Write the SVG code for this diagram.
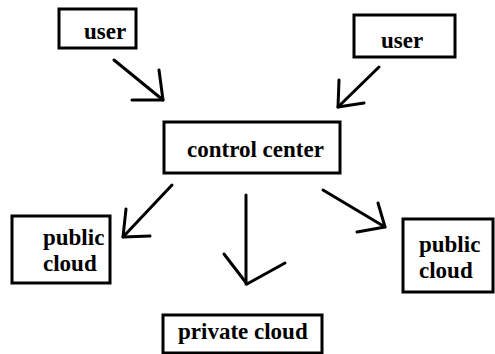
<svg xmlns="http://www.w3.org/2000/svg" width="495" height="354" viewBox="0 0 495 354">
<style>
.box{fill:#fff;stroke:#000;stroke-width:3}
.t{font-family:'Liberation Serif','Times New Roman',serif;font-weight:700;font-size:23px;fill:#000}
.c line,.c polyline{stroke:#000;stroke-width:3;fill:none;stroke-linecap:round;stroke-linejoin:round}
</style>
<rect width="495" height="354" fill="#fff"/>
<g id="user1"><rect class="box" x="59" y="9" width="77" height="39"/><text class="t" x="84" y="39">user</text></g>
<g id="user2"><rect class="box" x="354" y="15" width="101" height="42"/><text class="t" x="381" y="48">user</text></g>
<g id="control"><rect class="box" x="164" y="122" width="176" height="51"/><text class="t" x="187" y="157">control center</text></g>
<g id="public1"><rect class="box" x="12" y="216" width="98" height="67"/><text class="t" x="43" y="245">public</text><text class="t" x="43" y="271">cloud</text></g>
<g id="public2"><rect class="box" x="403" y="219" width="90" height="73"/><text class="t" x="419" y="252">public</text><text class="t" x="419" y="278">cloud</text></g>
<g id="private"><rect class="box" x="163" y="315" width="159" height="38"/><text class="t" x="178" y="339">private cloud</text></g>
<g class="c" id="connectors">
<line x1="114" y1="60" x2="163" y2="100"/><polyline points="159,70 163,100 132,100"/>
<line x1="379" y1="67" x2="338" y2="107"/><polyline points="339,80 338,107 364,103"/>
<line x1="172" y1="185" x2="123" y2="237"/><polyline points="126,209 123,237 150,236"/>
<line x1="246" y1="195" x2="246" y2="284"/><polyline points="224,254 247,284 285,263"/>
<line x1="323" y1="190" x2="385" y2="227"/><polyline points="378,203 385,227 357,232"/>
</g>
</svg>
